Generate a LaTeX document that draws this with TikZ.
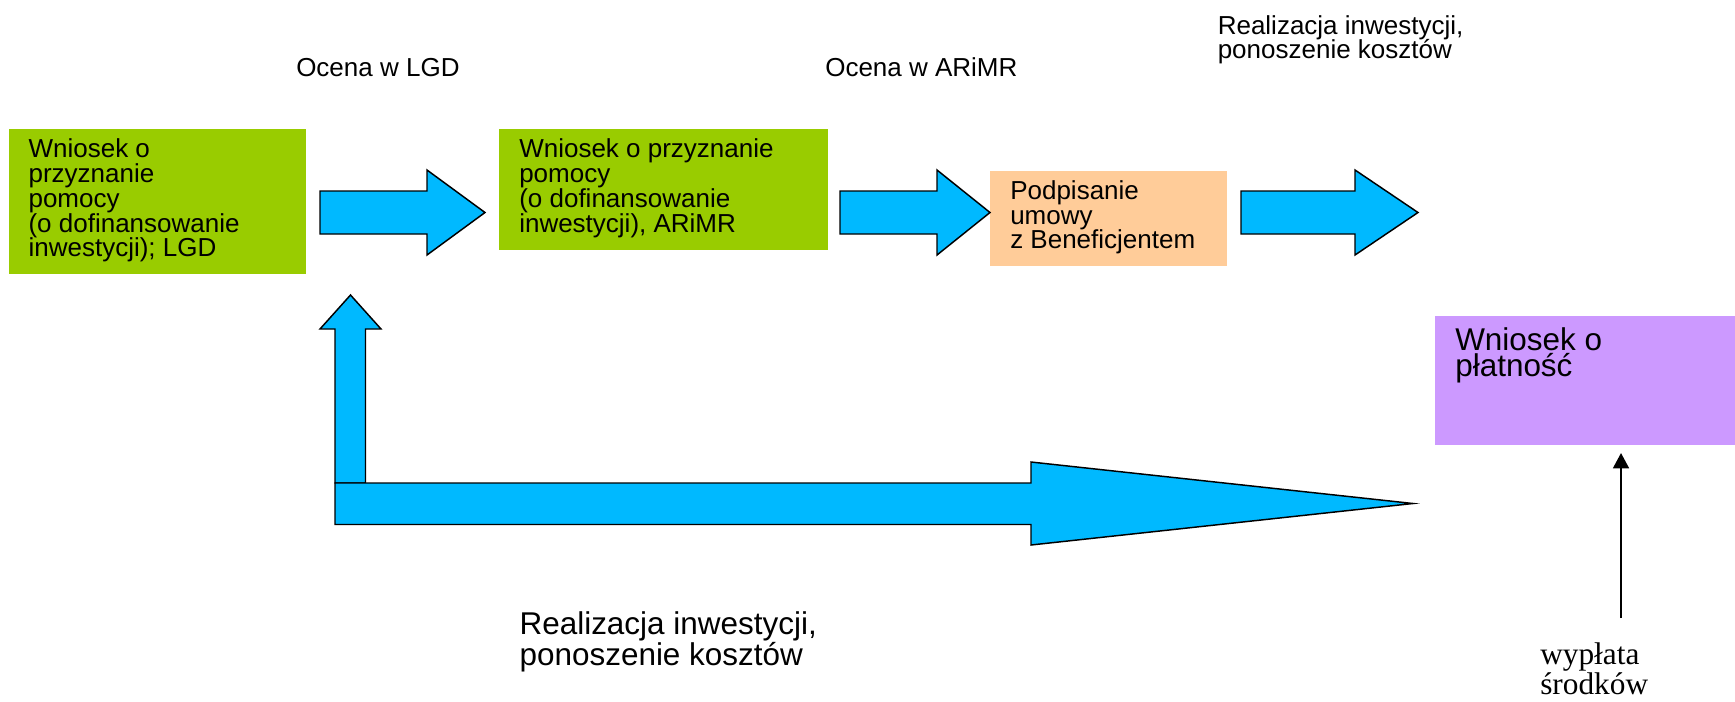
\documentclass[tikz,border=0pt]{standalone}
\usepackage{fontspec}
\setmainfont{Liberation Sans}
\newfontfamily\serifface{Liberation Serif}
\usetikzlibrary{arrows.meta}
\definecolor{boxgreen}{RGB}{153,204,0}
\definecolor{boxorange}{RGB}{255,204,153}
\definecolor{boxpurple}{RGB}{204,153,255}
\definecolor{arrowblue}{RGB}{0,185,255}
\begin{document}
\begin{tikzpicture}[x=0.75pt,y=-0.75pt,
  boxshape/.style={draw=none,inner sep=0pt,anchor=north west},
  txt/.style={inner sep=0pt,anchor=base west,align=left,font=\fontsize{19.5}{18.6}\selectfont},
  bigtxt/.style={inner sep=0pt,anchor=base west,align=left,font=\fontsize{23.6}{19.8}\selectfont},
  seriftxt/.style={inner sep=0pt,anchor=base west,align=left,font=\serifface\fontsize{23.5}{20.5}\selectfont},
  blockarrow/.style={fill=arrowblue,draw=black,line width=1.1pt,line join=miter},
  thinarrow/.style={draw=black,line width=1.3pt,-{Triangle[width=12pt,length=11.5pt]}}]
\useasboundingbox (0,0) rectangle (1735,701);
% boxes
\node[boxshape,fill=boxgreen,minimum width=222.75pt,minimum height=108.75pt] (b1) at (9,129) {};
\node[boxshape,fill=boxgreen,minimum width=246.75pt,minimum height=90.75pt] (b2) at (499,129) {};
\node[boxshape,fill=boxorange,minimum width=177.75pt,minimum height=70.875pt] (b3) at (989.5,171) {};
\node[boxshape,fill=boxpurple,minimum width=225pt,minimum height=96.375pt] (b4) at (1435,316) {};
% box texts (anchor = baseline of the last line)
\node[txt] (t1) at (28.3,256.9) {Wniosek o\\przyznanie\\pomocy\\(o dofinansowanie\\inwestycji); LGD};
\node[txt] (t2) at (519,232.1) {Wniosek o przyznanie\\pomocy\\(o dofinansowanie\\inwestycji), ARiMR};
\node[txt] (t3) at (1010,248.9) {Podpisanie\\umowy\\z Beneficjentem};
\node[bigtxt] (t4) at (1455,376.4) {Wniosek o\\płatność};
% free labels
\node[txt] (l1) at (296,76) {Ocena w LGD};
\node[txt] (l2) at (825,76) {Ocena w ARiMR};
\node[txt] (l3) at (1217.5,58.8) {Realizacja inwestycji,\\ponoszenie kosztów};
\node[bigtxt] (l4) at (519.3,665.7) {Realizacja inwestycji,\\ponoszenie kosztów};
\node[seriftxt] (l5) at (1540,694) {wypłata\\środków};
% block arrows
\path[blockarrow] (320,191) -- (427,191) -- (427,170) -- (485,212.5) -- (427,255) -- (427,234) -- (320,234) -- cycle;
\path[blockarrow] (840,191) -- (937,191) -- (937,170) -- (990,212.5) -- (937,255) -- (937,234) -- (840,234) -- cycle;
\path[blockarrow] (1241,191) -- (1355,191) -- (1355,170) -- (1418,212.5) -- (1355,255) -- (1355,234) -- (1241,234) -- cycle;
\path[blockarrow] (335,483) -- (335,329) -- (320,329) -- (350.5,295) -- (381,329) -- (365.5,329) -- (365.5,483) -- cycle;
\path[blockarrow] (335,483) -- (1031,483) -- (1031,462) -- (1413,503.5) -- (1031,545) -- (1031,524.5) -- (335,524.5) -- cycle;
% thin arrow
\coordinate (ptail) at (1621,618);
\draw[thinarrow,shorten >=6pt] (ptail) -- (ptail |- b4.south);
\end{tikzpicture}
\end{document}
